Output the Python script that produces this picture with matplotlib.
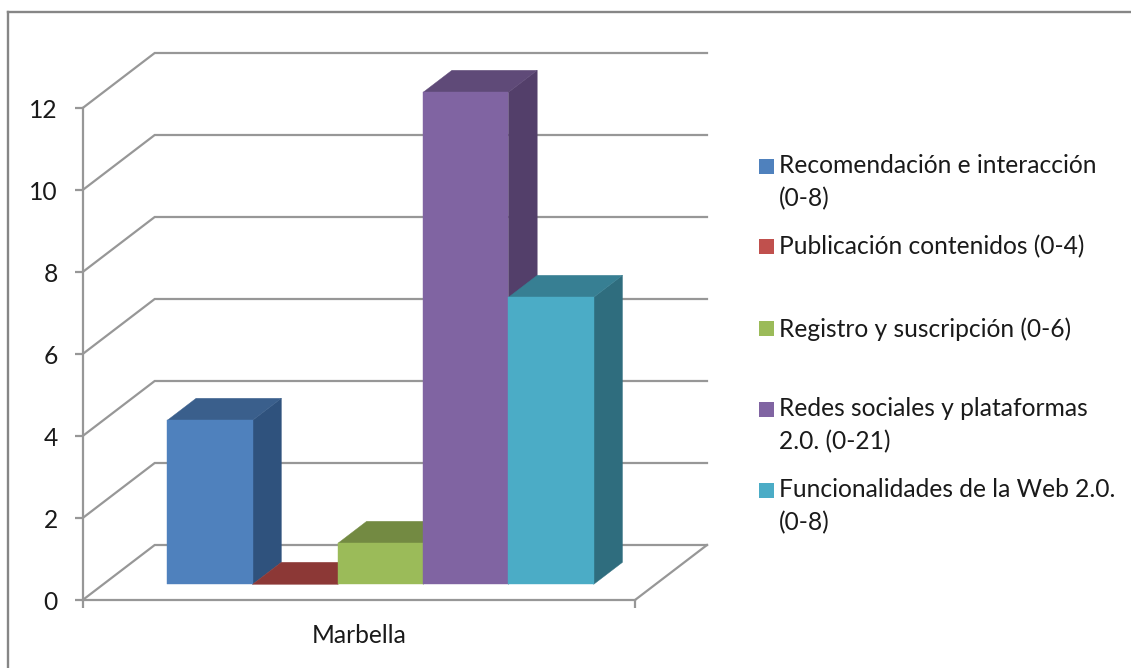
import matplotlib
matplotlib.use("Agg")
import matplotlib.pyplot as plt
from matplotlib.lines import Line2D
from matplotlib.patches import Polygon, Rectangle

W = 1131
H = 668

category = "Marbella"
series_names = [
	"Recomendación e interacción\n(0-8)",
	"Publicación contenidos (0-4)",
	"Registro y suscripción (0-6)",
	"Redes sociales y plataformas\n2.0. (0-21)",
	"Funcionalidades de la Web 2.0.\n(0-8)",
]
series_values = [4, 0, 1, 12, 7]
value_ticks = [0, 2, 4, 6, 8, 10, 12]

front_colors = ["#4F81BD", "#C0504D", "#9BBB59", "#8064A2", "#4BACC6"]
top_colors = ["#3A5F8C", "#8C3836", "#738A42", "#5F4A78", "#377F93"]
side_colors = ["#2F527D", "#7A302E", "#647838", "#533F6A", "#2F6D7E"]

grid_color = "#979797"
text_color = "#1a1a1a"
font = "Lato"
font_size = 17.7

# one depth unit = back wall, in axis units
DEPTH_X = 72 / 552.3
DEPTH_Y = 55 / 41.0

BAR_X0 = 0.116
BAR_W = 0.1544
BAR_D0 = 0.285
BAR_D1 = 0.685


def project(x, v, d):
	return (x + d * DEPTH_X, v + d * DEPTH_Y)


def draw_box(ax, x, value, i):
	x1 = x + BAR_W
	front = [project(x, 0, BAR_D0), project(x1, 0, BAR_D0), project(x1, value, BAR_D0), project(x, value, BAR_D0)]
	side = [project(x1, 0, BAR_D0), project(x1, 0, BAR_D1), project(x1, value, BAR_D1), project(x1, value, BAR_D0)]
	top = [project(x, value, BAR_D0), project(x1, value, BAR_D0), project(x1, value, BAR_D1), project(x, value, BAR_D1)]
	z = 5 + i
	ax.add_patch(Polygon(side, closed=True, fc=side_colors[i], ec=side_colors[i], lw=0.3, zorder=z, clip_on=False))
	ax.add_patch(Polygon(top, closed=True, fc=top_colors[i], ec=top_colors[i], lw=0.3, zorder=z, clip_on=False))
	if value > 0:
		ax.add_patch(Polygon(front, closed=True, fc=front_colors[i], ec=front_colors[i], lw=0.3, zorder=z, clip_on=False))


def main():
	fig = plt.figure(figsize=(W / 100, H / 100), dpi=100)
	ax = fig.add_axes([82.7 / W, (H - 600) / H, 552.3 / W, 492 / H])
	ax.set_xlim(0, 1)
	ax.set_ylim(0, 12)
	ax.patch.set_alpha(0)

	# gridlines run from the front axis over the side wall and along the back wall
	for v in value_ticks:
		xs, ys = zip(project(0, v, 0), project(0, v, 1), project(1, v, 1))
		ax.plot(xs, ys, color=grid_color, lw=1.6, zorder=1, clip_on=False, solid_joinstyle="miter")
	xs, ys = zip(project(1, 0, 0), project(1, 0, 1))
	ax.plot(xs, ys, color=grid_color, lw=1.6, zorder=1, clip_on=False)

	for i, value in enumerate(series_values):
		draw_box(ax, BAR_X0 + i * BAR_W, value, i)

	for name in ["top", "right"]:
		ax.spines[name].set_visible(False)
	for name in ["left", "bottom"]:
		ax.spines[name].set_color(grid_color)
		ax.spines[name].set_linewidth(1.6)

	ax.set_yticks(value_ticks)
	ax.tick_params(axis="y", length=6, width=1.6, color=grid_color, labelsize=font_size, labelcolor=text_color, pad=12)
	ax.set_xticks([0, 1])
	ax.set_xticklabels(["", ""])
	ax.tick_params(axis="x", which="major", length=6, width=1.6, color=grid_color)
	ax.set_xticks([0.5], labels=[category], minor=True)
	ax.tick_params(axis="x", which="minor", length=0, labelsize=font_size, labelcolor=text_color, pad=17)
	for label in ax.get_yticklabels() + ax.get_xticklabels(minor=True):
		label.set_fontfamily(font)

	# legend, the spacing of the entries is not regular in the original
	text_y = [182, 247, 329, 425, 506]
	key_y = [166, 247, 328, 409, 490]
	for i, name in enumerate(series_names):
		fig.add_artist(Rectangle((759 / W, 1 - (key_y[i] + 7.5) / H), 14.5 / W, 15 / H, fc=front_colors[i], ec="none"))
		fig.text(779 / W, 1 - text_y[i] / H, name, family=font, fontsize=font_size, color=text_color,
			va="center", ha="left", linespacing=1.5)

	# chart frame, only top and left are in the crop
	fig.add_artist(Line2D([8.3 / W, 8.3 / W], [0, 1 - 12.3 / H], color="#868686", lw=1.7))
	fig.add_artist(Line2D([8.3 / W, 1], [1 - 12.3 / H, 1 - 12.3 / H], color="#868686", lw=1.7))

	fig.savefig("out.png", dpi=100)


if __name__ == "__main__":
	main()
